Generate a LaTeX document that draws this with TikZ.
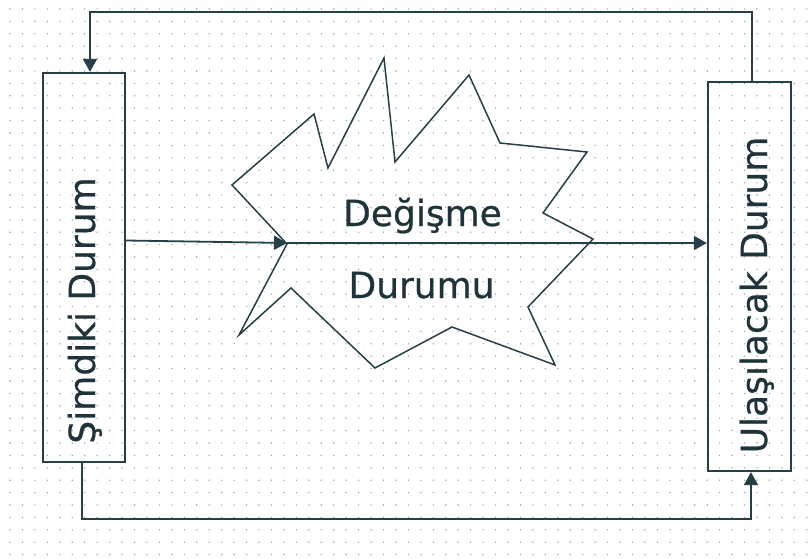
\documentclass[tikz,border=0pt]{standalone}
\usepackage{fontspec}
\setmainfont[FakeBold=0.6]{DejaVu Sans}
\usetikzlibrary{arrows.meta}
\definecolor{ln}{HTML}{263F48}
\definecolor{tx}{HTML}{1E343A}
\definecolor{dotc}{HTML}{9CA5B2}
\begin{document}
\begin{tikzpicture}[x=1pt,y=-1pt,
  box/.style={draw=ln, line width=2.2pt, minimum width=82pt, minimum height=389pt, inner sep=0pt},
  lbl/.style={text=tx, font=\fontsize{36}{40}\selectfont, inner sep=0pt},
  conn/.style={draw=ln, line width=1.8pt, -{Triangle[length=13pt,width=14pt]}},
  burst/.style={draw=ln, line width=1.5pt, line join=miter}]
\useasboundingbox (0,0) rectangle (811,559);
\foreach \i in {0,...,64} \foreach \j in {0,...,44} \fill[dotc] (10+12.45*\i, 9+12.4*\j) circle (0.8pt);
% boxes
\node[box] (L) at (84,267.5) {};
\node[box, minimum width=83pt] (R) at (749.5,276.5) {};
% labels
\node[lbl, rotate=90, anchor=base] (Lt) at (95,310.5) {Şimdiki Durum};
\node[lbl, rotate=90, anchor=base] (Rt) at (767,295) {Ulaşılacak Durum};
\node[lbl, anchor=base] (T1) at (422.5,226) {Değişme};
\node[lbl, anchor=base] (T2) at (421.5,298) {Durumu};
% burst
\draw[burst] (232,185) -- (314,114) -- (328,168) -- (384,58) -- (395,162) -- (469,75) -- (500,143) -- (587,152) -- (543,213) -- (593,239) -- (528,307) -- (555,365) -- (452,327) -- (375,368) -- (291,288) -- (239,335) -- (287,244) -- cycle;
\coordinate (B) at (287,243);
% connectors
\draw[conn] ([yshift=27pt]L.east) -- (B);
\draw[conn] (B) -- ([yshift=33.5pt]R.west);
\draw[conn] ([xshift=2.5pt]R.north) -- ++(0,-69) -| ([xshift=6pt]L.north);
\draw[conn] ([xshift=-2pt]L.south) -- ++(0,56) -| ([xshift=1.5pt]R.south);
\end{tikzpicture}
\end{document}
